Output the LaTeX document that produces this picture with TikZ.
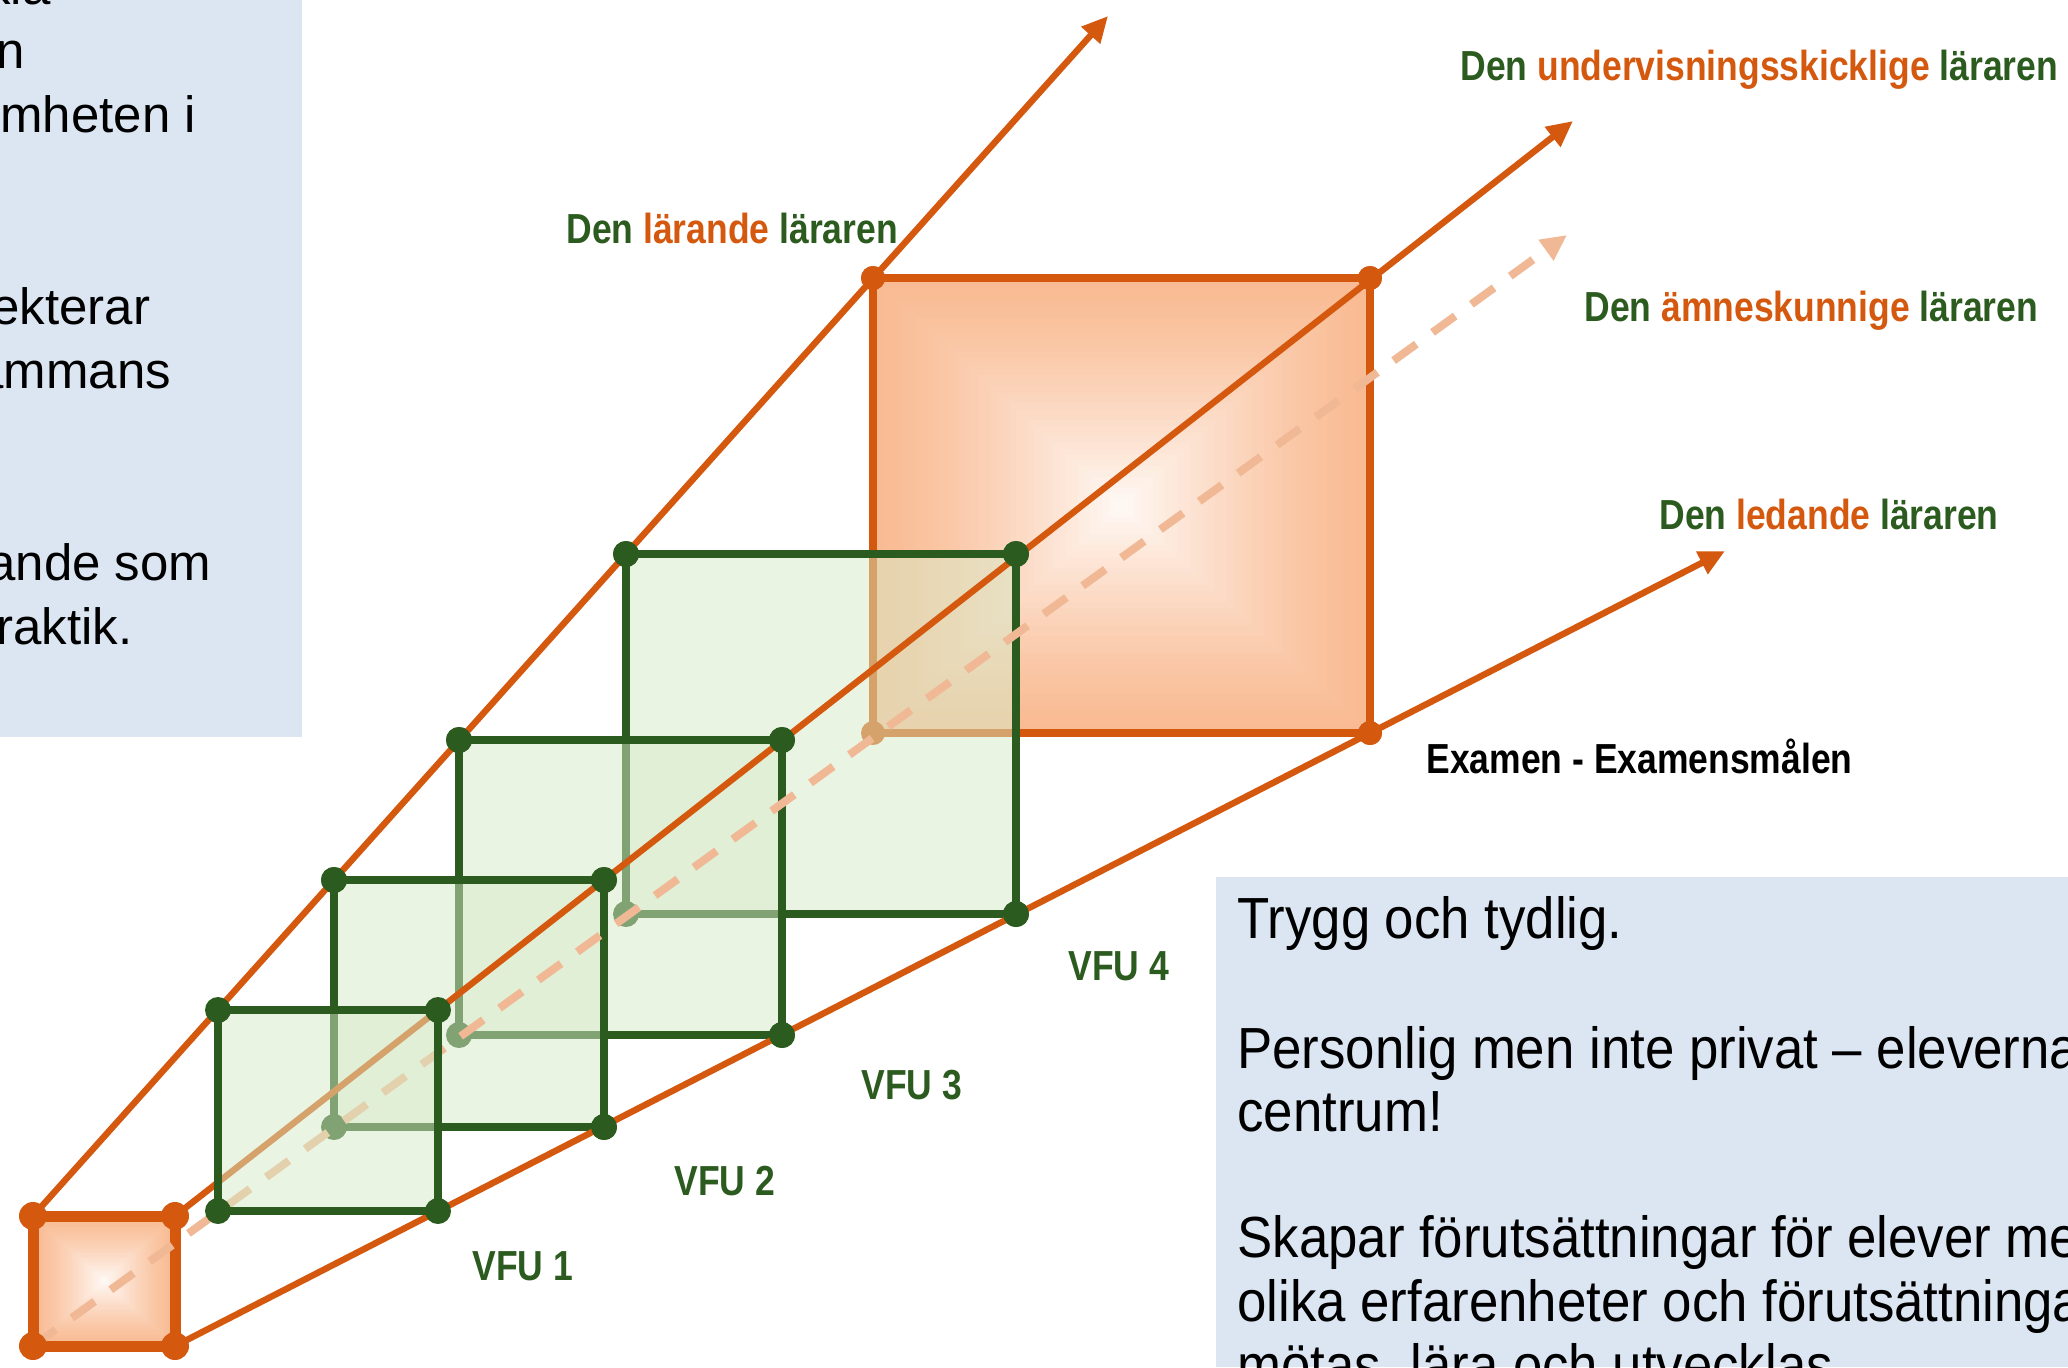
\documentclass[tikz,border=0pt]{standalone}
\usepackage{fontspec}
\setmainfont{Liberation Sans}
\newfontfamily\lblfont[FakeStretch=0.845]{Liberation Sans Bold}
\newfontfamily\narrowfont[FakeStretch=0.91]{Liberation Sans}
\usetikzlibrary{arrows.meta}
\definecolor{orng}{HTML}{D4590F}
\definecolor{grn}{HTML}{2C5B1F}
\definecolor{lgrn}{HTML}{D7EBC9}
\definecolor{peach}{HTML}{F9BB93}
\definecolor{dashc}{HTML}{F0B894}
\definecolor{boxblue}{HTML}{DCE6F2}
\newcommand\gradsq[4]{%
  \foreach \i in {0,...,40}{%
    \pgfmathsetmacro\f{\i/40}%
    \pgfmathsetmacro\p{100-92*(\f)^1.3}%
    \fill[peach!\p!white] ({#1+\f*(#3-#1)/2},{#2+\f*(#4-#2)/2}) rectangle ({#3-\f*(#3-#1)/2},{#4-\f*(#4-#2)/2});
  }}
\begin{document}
\begin{tikzpicture}[x=0.5pt,y=-0.5pt,
  oline/.style={draw=orng, line width=3.2pt, -{Triangle[length=13pt,width=12pt]}},
  dline/.style={draw=dashc, line width=4pt, dash pattern=on 14pt off 10pt, -{Triangle[length=13pt,width=12pt]}},
  gedge/.style={draw=grn, line width=4.2pt},
  gfill/.style={fill=lgrn, fill opacity=0.5},
  oedge/.style={draw=orng, line width=4pt},
  sedge/.style={draw=orng, line width=5.5pt},
  gdot/.style={fill=grn},
  odot/.style={fill=orng},
  lbl/.style={font=\lblfont\fontsize{21pt}{25pt}\selectfont, inner sep=0pt, anchor=base west, text=grn},
  tl/.style={font=\fontsize{25.5pt}{32pt}\selectfont, inner sep=0pt, anchor=base west, text=black},
  tr/.style={font=\narrowfont\fontsize{29pt}{32pt}\selectfont, inner sep=0pt, anchor=base west, text=black}]
\useasboundingbox (0,0) rectangle (2068,1367);
\fill[white] (0,0) rectangle (2068,1367);
% corners
\coordinate (s-tl) at (33,1216); \coordinate (s-tr) at (175,1216);
\coordinate (s-br) at (175,1346); \coordinate (s-bl) at (33,1346);
\coordinate (v1-tl) at (218,1010); \coordinate (v1-tr) at (438,1010);
\coordinate (v1-br) at (438,1211); \coordinate (v1-bl) at (218,1211);
\coordinate (v2-tl) at (334,880); \coordinate (v2-tr) at (604,880);
\coordinate (v2-br) at (604,1127); \coordinate (v2-bl) at (334,1127);
\coordinate (v3-tl) at (459,740); \coordinate (v3-tr) at (782,740);
\coordinate (v3-br) at (782,1035); \coordinate (v3-bl) at (459,1035);
\coordinate (v4-tl) at (626,554); \coordinate (v4-tr) at (1016,554);
\coordinate (v4-br) at (1016,914); \coordinate (v4-bl) at (626,914);
\coordinate (b-tl) at (873,278); \coordinate (b-tr) at (1370,278);
\coordinate (b-br) at (1370,733); \coordinate (b-bl) at (873,733);
\coordinate (aT) at (1108,16); \coordinate (aM) at (1573,121);
\coordinate (aB) at (1725,551); \coordinate (aD) at (1567,235);
% text boxes
\fill[boxblue] (0,0) rectangle (302,737);
\fill[boxblue] (1216,877) rectangle (2068,1367);
\begin{scope}
\clip (0,0) rectangle (302,737);
\node[tl] (t1) at (-15,4) {kla};
\node[tl] (t2) at (-4,68) {n};
\node[tl] (t3) at (0,132) {mheten i};
\node[tl] (t4) at (-9,324) {ekterar};
\node[tl] (t5) at (-25,388) {ammans};
\node[tl] (t6) at (-13,580) {ande som};
\node[tl] (t7) at (-4,644) {raktik.};
\end{scope}
\begin{scope}
\clip (1216,877) rectangle (2068,1367);
\node[tr] (r1) at (1237,938) {Trygg och tydlig.};
\node[tr] (r2) at (1237,1068) {Personlig men inte privat – eleverna};
\node[tr] (r3) at (1237,1131) {centrum!};
\node[tr] (r4) at (1237,1257) {Skapar förutsättningar för elever med};
\node[tr] (r5) at (1237,1321) {olika erfarenheter och förutsättningar};
\node[tr] (r6) at (1237,1385) {mötas, lära och utvecklas.};
\end{scope}
% small orange square
\gradsq{33}{1216}{175}{1346}
\draw[sedge] (s-tl) rectangle (s-br);
% big orange square
\gradsq{873}{278}{1370}{733}
\draw[oedge] (b-tl) rectangle (b-br);
\foreach \c in {b-tl,b-tr,b-br,b-bl}{\fill[odot] (\c) circle[radius=6pt];}
% VFU 4,3,2
\foreach \v in {v4,v3,v2}{
  \fill[gfill] (\v-tl) rectangle (\v-br);
  \draw[gedge] (\v-tl) rectangle (\v-br);
  \foreach \c in {tl,tr,br,bl}{\fill[gdot] (\v-\c) circle[radius=6.5pt];}
}
% perspective lines
\draw[dline] (s-bl) -- (aD);
\draw[oline] (s-tl) -- (aT);
\draw[oline] (s-tr) -- (aM);
\draw[oline] (s-br) -- (aB);
\foreach \v in {v4,v3,v2}{
  \foreach \c in {tl,tr,br}{\fill[gdot] (\v-\c) circle[radius=6.5pt];}
}
\foreach \c in {b-tl,b-tr,b-br}{\fill[odot] (\c) circle[radius=6pt];}
% VFU 1
\fill[gfill] (v1-tl) rectangle (v1-br);
\draw[gedge] (v1-tl) rectangle (v1-br);
\foreach \c in {tl,tr,br,bl}{\fill[gdot] (v1-\c) circle[radius=6.5pt];}
% small square dots
\foreach \c in {s-tl,s-tr,s-br,s-bl}{\fill[odot] (\c) circle[radius=7pt];}
% labels
\node[lbl] (l1) at (566,243) {Den \textcolor{orng}{lärande} läraren};
\node[lbl] (l2) at (1460,80) {Den \textcolor{orng}{undervisningsskicklige} läraren};
\node[lbl] (l3) at (1584,321) {Den \textcolor{orng}{ämneskunnige} läraren};
\node[lbl] (l4) at (1659,529) {Den \textcolor{orng}{ledande} läraren};
\node[lbl, text=black] (ex) at (1426,773) {Examen - Examensmålen};
\node[lbl] (f4) at (1068,980) {VFU 4};
\node[lbl] (f3) at (861,1099) {VFU 3};
\node[lbl] (f2) at (674,1195) {VFU 2};
\node[lbl] (f1) at (472,1280) {VFU 1};
\end{tikzpicture}
\end{document}
